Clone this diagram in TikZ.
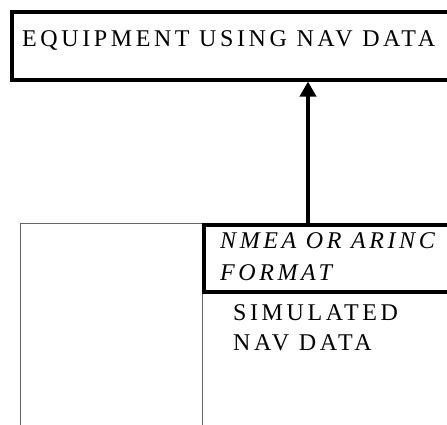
\documentclass[tikz,border=0pt]{standalone}
\usepackage{fontspec}
\setmainfont[LetterSpace=15]{Liberation Serif}
\usetikzlibrary{arrows.meta}

\begin{document}
\begin{tikzpicture}[x=1pt,y=-1pt,
    every node/.style={font=\fontsize{24}{31}\selectfont, inner sep=0pt},
    thickbox/.style={draw=black, line width=3.5pt, rectangle, anchor=north west},
    thinbox/.style={draw=black!60, line width=1pt, rectangle, anchor=north west},
    boxtext/.style={anchor=base west, align=left}]
    \useasboundingbox (0,0) rectangle (447,424);
    \clip (0,0) rectangle (447,424);

    % Simulator frame (open at the bottom)
    \node[thinbox, minimum width=182pt, minimum height=240pt] (sim) at (20,223) {};

    % Output boxes
    \node[thickbox, minimum width=460pt, minimum height=68pt] (equip) at (10,10) {};
    \node[thickbox, minimum width=260pt, minimum height=67pt] (fmt) at (202,223) {};

    % Labels (anchored on the last line)
    \node[boxtext] (equiptext) at (22,46) {EQUIPMENT USING NAV DATA};
    \node[boxtext] (fmttext) at (220,280) {\itshape NMEA OR ARINC\\[1pt]\itshape FORMAT};
    \node[boxtext] (simtext) at (233,350) {SIMULATED\\[-1pt]NAV DATA};

    % Data link up to the equipment
    \coordinate (tap) at (308,223);
    \draw[line width=3.5pt, -{Triangle[width=16pt,length=15pt]}] (tap) -- (tap |- equip.south);
\end{tikzpicture}
\end{document}
